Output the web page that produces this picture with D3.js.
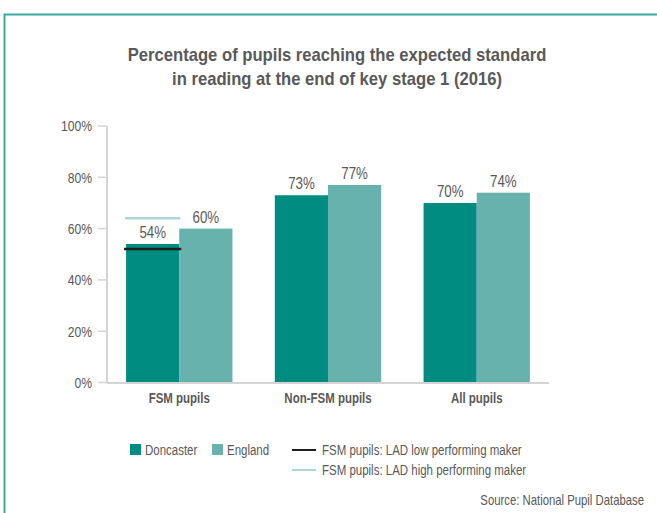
<!DOCTYPE html>
<html>
<head>
<meta charset="utf-8">
<script src="https://cdn.jsdelivr.net/npm/d3@7"></script>
<style>
  body { margin: 0; background: #fff; }
  svg { display: block; }
  text { font-family: 'Liberation Sans', Arial, sans-serif; fill: #595959; }
</style>
</head>
<body>
<div id="chart"></div>
<script>
const categories = ['FSM pupils', 'Non-FSM pupils', 'All pupils']
const seriesNames = ['Doncaster', 'England']
const doncaster = [54, 73, 70]
const england = [60, 77, 74]
const lowMarker = 52   // FSM pupils: LAD low performing marker
const highMarker = 64  // FSM pupils: LAD high performing marker
const yTicks = [0, 20, 40, 60, 80, 100]

const colors = { Doncaster: '#008c80', England: '#68b2ad' }
const lowColor = '#1e1e1e'
const highColor = '#a9d7d3'

const width = 657
const height = 513

// the original uses a condensed face, so squeeze Liberation Sans horizontally
const SQ = 0.82
function squeeze (sel, x, y, k) {
  sel.attr('transform', (d, i) => {
    const xx = typeof x === 'function' ? x(d, i) : x
    const yy = typeof y === 'function' ? y(d, i) : y
    return `translate(${xx},${yy}) scale(${k || SQ},1)`
  })
  return sel
}

const svg = d3.select('#chart')
  .append('svg')
  .attr('width', width)
  .attr('height', height)

// frame
svg.append('path')
  .attr('d', `M4.5,${height} V14.5 H${width}`)
  .attr('fill', 'none')
  .attr('stroke', '#3aa99d')
  .attr('stroke-width', 2)

// title
const titleLines = ['Percentage of pupils reaching the expected standard', 'in reading at the end of key stage 1 (2016)']
svg.append('g')
  .selectAll('text')
  .data(titleLines)
  .enter()
  .append('text')
  .attr('text-anchor', 'middle')
  .style('font-weight', 'bold')
  .style('font-size', '18.5px')
  .text(d => d)
  .call(squeeze, 337, (d, i) => 61 + i * 24, 0.9)

// scales
const x0 = d3.scaleBand()
  .domain(categories)
  .range([106, 550])
  .paddingInner(0.285)
  .paddingOuter(0.135)

const x1 = d3.scaleBand()
  .domain(seriesNames)
  .range([0, x0.bandwidth()])

const y = d3.scaleLinear()
  .domain([0, 100])
  .range([382.5, 126])

// y axis
const yAxis = svg.append('g')
yAxis.append('line')
  .attr('x1', 107).attr('x2', 107)
  .attr('y1', y(100)).attr('y2', y(0))
  .attr('stroke', '#d4d4d4').attr('stroke-width', 2)
yAxis.selectAll('line.tick')
  .data(yTicks)
  .enter()
  .append('line')
  .attr('class', 'tick')
  .attr('x1', 98).attr('x2', 107)
  .attr('y1', d => y(d)).attr('y2', d => y(d))
  .attr('stroke', '#d4d4d4').attr('stroke-width', 1.5)
yAxis.selectAll('text')
  .data(yTicks)
  .enter()
  .append('text')
  .attr('dy', '0.36em')
  .attr('text-anchor', 'end')
  .style('font-size', '15px')
  .text(d => d + '%')
  .call(squeeze, 92, d => y(d), 0.81)

// bars
const rows = categories.map((c, i) => ({ cat: c, values: [
  { name: 'Doncaster', value: doncaster[i] },
  { name: 'England', value: england[i] }
] }))

const groups = svg.append('g')
  .selectAll('g')
  .data(rows)
  .enter()
  .append('g')
  .attr('transform', d => `translate(${x0(d.cat)},0)`)

groups.selectAll('rect')
  .data(d => d.values)
  .enter()
  .append('rect')
  .attr('x', d => x1(d.name))
  .attr('y', d => y(d.value))
  .attr('width', x1.bandwidth())
  .attr('height', d => y(0) - y(d.value))
  .attr('fill', d => colors[d.name])

groups.selectAll('text.value')
  .data(d => d.values)
  .enter()
  .append('text')
  .attr('class', 'value')
  .attr('text-anchor', 'middle')
  .style('font-size', '16px')
  .text(d => d.value + '%')
  .call(squeeze, d => x1(d.name) + x1.bandwidth() / 2, d => y(d.value) - 6, 0.83)

// x axis
svg.append('line')
  .attr('x1', 107).attr('x2', 549)
  .attr('y1', y(0) + 0.5).attr('y2', y(0) + 0.5)
  .attr('stroke', '#d4d4d4').attr('stroke-width', 2)

svg.append('g')
  .selectAll('text')
  .data(categories)
  .enter()
  .append('text')
  .attr('text-anchor', 'middle')
  .style('font-size', '14px')
  .style('font-weight', 'bold')
  .text(d => d)
  .call(squeeze, d => x0(d) + x0.bandwidth() / 2, 403, 0.82)

// LAD markers over FSM Doncaster bar
const mx = x0('FSM pupils') + x1('Doncaster')
svg.append('line')
  .attr('x1', mx - 2).attr('x2', mx + x1.bandwidth() + 2)
  .attr('y1', y(lowMarker)).attr('y2', y(lowMarker))
  .attr('stroke', lowColor).attr('stroke-width', 2.5)
svg.append('line')
  .attr('x1', mx - 1).attr('x2', mx + x1.bandwidth() + 1)
  .attr('y1', y(highMarker)).attr('y2', y(highMarker))
  .attr('stroke', highColor).attr('stroke-width', 2.5)

// legend
const legend = svg.append('g').style('font-size', '14px')
const boxes = [{ name: 'Doncaster', x: 130 }, { name: 'England', x: 212 }]
boxes.forEach(b => {
  legend.append('rect')
    .attr('x', b.x).attr('y', 444)
    .attr('width', 11).attr('height', 11)
    .attr('fill', colors[b.name])
  legend.append('text')
    .text(b.name)
    .call(squeeze, b.x + 15, 455)
})
const lineItems = [
  { label: 'FSM pupils: LAD low performing maker', color: lowColor, y: 450 },
  { label: 'FSM pupils: LAD high performing maker', color: highColor, y: 470 }
]
lineItems.forEach(l => {
  legend.append('line')
    .attr('x1', 292).attr('x2', 316)
    .attr('y1', l.y).attr('y2', l.y)
    .attr('stroke', l.color).attr('stroke-width', 2)
  legend.append('text')
    .text(l.label)
    .call(squeeze, 322, l.y + 5)
})

svg.append('text')
  .attr('text-anchor', 'end')
  .style('font-size', '14px')
  .text('Source: National Pupil Database')
  .call(squeeze, 644, 505, 0.81)
</script>
</body>
</html>
